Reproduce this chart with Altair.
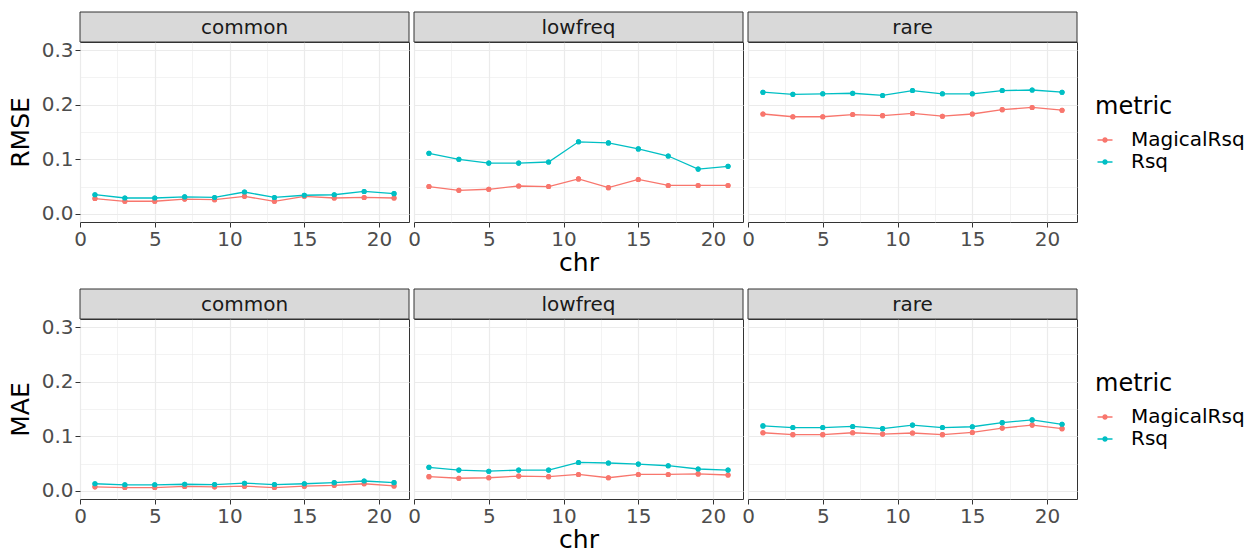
import altair as alt
import pandas as pd

chr_vals = [1, 3, 5, 7, 9, 11, 13, 15, 17, 19, 21]
categories = ["common", "lowfreq", "rare"]
metrics = ["MagicalRsq", "Rsq"]
metric_colors = ["#F8766D", "#00BFC4"]

# RMSE
rmse_common_magical = [0.028, 0.023, 0.023, 0.027, 0.026, 0.032, 0.023, 0.032, 0.029, 0.030, 0.029]
rmse_common_rsq = [0.035, 0.029, 0.029, 0.031, 0.030, 0.040, 0.030, 0.034, 0.035, 0.041, 0.037]
rmse_lowfreq_magical = [0.050, 0.043, 0.045, 0.051, 0.050, 0.064, 0.048, 0.063, 0.052, 0.052, 0.052]
rmse_lowfreq_rsq = [0.111, 0.100, 0.093, 0.093, 0.095, 0.132, 0.130, 0.119, 0.106, 0.082, 0.087]
rmse_rare_magical = [0.183, 0.178, 0.178, 0.182, 0.180, 0.184, 0.179, 0.183, 0.191, 0.195, 0.190]
rmse_rare_rsq = [0.223, 0.219, 0.220, 0.221, 0.217, 0.226, 0.220, 0.220, 0.226, 0.227, 0.223]

# MAE
mae_common_magical = [0.0073, 0.006, 0.006, 0.008, 0.0073, 0.0085, 0.006, 0.0085, 0.010, 0.013, 0.009]
mae_common_rsq = [0.013, 0.011, 0.011, 0.012, 0.0115, 0.014, 0.0115, 0.013, 0.015, 0.018, 0.015]
mae_lowfreq_magical = [0.026, 0.023, 0.024, 0.027, 0.026, 0.030, 0.024, 0.030, 0.030, 0.031, 0.029]
mae_lowfreq_rsq = [0.043, 0.038, 0.036, 0.038, 0.038, 0.052, 0.051, 0.049, 0.046, 0.040, 0.038]
mae_rare_magical = [0.1065, 0.103, 0.103, 0.1065, 0.104, 0.106, 0.103, 0.107, 0.115, 0.1205, 0.114]
mae_rare_rsq = [0.119, 0.116, 0.116, 0.118, 0.114, 0.1205, 0.116, 0.1175, 0.125, 0.130, 0.122]

series = {
    ("RMSE", "common", "MagicalRsq"): rmse_common_magical,
    ("RMSE", "common", "Rsq"): rmse_common_rsq,
    ("RMSE", "lowfreq", "MagicalRsq"): rmse_lowfreq_magical,
    ("RMSE", "lowfreq", "Rsq"): rmse_lowfreq_rsq,
    ("RMSE", "rare", "MagicalRsq"): rmse_rare_magical,
    ("RMSE", "rare", "Rsq"): rmse_rare_rsq,
    ("MAE", "common", "MagicalRsq"): mae_common_magical,
    ("MAE", "common", "Rsq"): mae_common_rsq,
    ("MAE", "lowfreq", "MagicalRsq"): mae_lowfreq_magical,
    ("MAE", "lowfreq", "Rsq"): mae_lowfreq_rsq,
    ("MAE", "rare", "MagicalRsq"): mae_rare_magical,
    ("MAE", "rare", "Rsq"): mae_rare_rsq,
}

rows = []
for (measure, freq, metric), vals in series.items():
    for c, v in zip(chr_vals, vals):
        rows.append({"measure": measure, "freq": freq, "metric": metric, "chr": c, "value": v})
df = pd.DataFrame(rows)

FONT = "DejaVu Sans"
W, H = 329, 180
STRIP = 30

x_ticks = [0, 2.5, 5, 7.5, 10, 12.5, 15, 17.5, 20]
y_ticks = [0.0, 0.05, 0.1, 0.15, 0.2, 0.25, 0.3]

x_major = "datum.value % 5 == 0"
y_major = "abs(datum.value * 10 - round(datum.value * 10)) < 0.001"

color_scale = alt.Scale(domain=metrics, range=metric_colors)
LEGEND_PATH = ("M-1,-0.09H1V0.09H-1Z"
               "M-0.36,0A0.36,0.36 0 1,1 0.36,0A0.36,0.36 0 1,1 -0.36,0Z")


def panel(measure, freq, idx):
    base = alt.Chart(df).transform_filter(
        (alt.datum.measure == measure) & (alt.datum.freq == freq)
    )
    x_axis = alt.Axis(
        values=x_ticks,
        labelExpr=f"{x_major} ? datum.label : ''",
        labelFlush=False,
        labelOverlap=False,
        labelFont=FONT,
        labelFontSize=20,
        labelColor="#4D4D4D",
        labelPadding=2,
        tickSize=5,
        tickColor="#333333",
        tickWidth=1,
        tickOpacity={"condition": {"test": x_major, "value": 1}, "value": 0},
        grid=True,
        gridColor="#EBEBEB",
        gridWidth={"condition": {"test": x_major, "value": 1.2}, "value": 0.6},
        domain=False,
        title="chr" if idx == 1 else "",
        titleFont=FONT,
        titleFontSize=25,
        titleFontWeight="normal",
        titleColor="#000000",
        titlePadding=1,
    )
    if idx == 0:
        y_axis = alt.Axis(
            values=y_ticks,
            format=".1f",
            labelExpr=f"{y_major} ? datum.label : ''",
            labelOverlap=False,
            labelFont=FONT,
            labelFontSize=20,
            labelColor="#4D4D4D",
            labelPadding=2,
            tickSize=5,
            tickColor="#333333",
            tickWidth=1,
            tickOpacity={"condition": {"test": y_major, "value": 1}, "value": 0},
            grid=True,
            gridColor="#EBEBEB",
            gridWidth={"condition": {"test": y_major, "value": 1.2}, "value": 0.6},
            domain=False,
            title=measure,
            titleFont=FONT,
            titleFontSize=25,
            titleFontWeight="normal",
            titleColor="#000000",
            titlePadding=8,
        )
    else:
        y_axis = alt.Axis(
            values=y_ticks,
            labels=False,
            ticks=False,
            grid=True,
            gridColor="#EBEBEB",
            gridWidth={"condition": {"test": y_major, "value": 1.2}, "value": 0.6},
            domain=False,
            title=None,
        )
    x = alt.X("chr:Q", scale=alt.Scale(domain=[0, 22], nice=False, zero=False), axis=x_axis)
    y = alt.Y("value:Q", scale=alt.Scale(domain=[-0.015, 0.315], nice=False, zero=False), axis=y_axis)

    if idx == 2:
        legend = alt.Legend(
            title="metric",
            orient="none",
            legendX=347,
            legendY=53,
            titleFont=FONT,
            titleFontSize=24,
            titleFontWeight="normal",
            titleColor="#000000",
            titlePadding=11,
            labelFont=FONT,
            labelFontSize=20,
            labelColor="#000000",
            labelOffset=16,
            symbolType=LEGEND_PATH,
            symbolSize=225,
            symbolStrokeWidth=0,
            symbolOpacity=1,
            rowPadding=2,
        )
    else:
        legend = None

    pts_under = base.mark_point(filled=True, size=26, opacity=1).encode(
        x=x, y=y, color=alt.Color("metric:N", scale=color_scale, legend=legend)
    )
    line = base.mark_line(strokeWidth=1.3).encode(
        x=x, y=y, color=alt.Color("metric:N", scale=color_scale, legend=None)
    )
    pts = base.mark_point(filled=True, size=26, opacity=1).encode(
        x=x, y=y, color=alt.Color("metric:N", scale=color_scale, legend=None)
    )
    strip_df = pd.DataFrame({"label": [freq]})
    strip = alt.Chart(strip_df).mark_rect(
        fill="#D9D9D9", stroke="#333333", strokeWidth=1
    ).encode(
        x=alt.value(0), x2=alt.value(W), y=alt.value(-STRIP), y2=alt.value(0)
    )
    strip_text = alt.Chart(strip_df).mark_text(
        font=FONT, fontSize=20, color="#1A1A1A", baseline="middle", align="center"
    ).encode(text="label:N", x=alt.value(W / 2), y=alt.value(-STRIP / 2 + 1))
    return alt.layer(pts_under, line, pts, strip, strip_text).properties(width=W, height=H)


def row(measure):
    return alt.hconcat(
        *[panel(measure, f, i) for i, f in enumerate(categories)],
        spacing=5, bounds="flush",
    ).resolve_scale(color="independent").resolve_legend(color="independent")


chart = alt.vconcat(row("RMSE"), row("MAE"), spacing=12).resolve_scale(
    color="independent"
).resolve_legend(color="independent").properties(
    padding={"left": 7, "top": 11, "right": 5, "bottom": 0},
    background="#FFFFFF",
).configure_view(
    stroke="#333333", strokeWidth=1, fill="#FFFFFF"
)

chart.save("out.html", embed_options={"renderer": "svg", "actions": False})
